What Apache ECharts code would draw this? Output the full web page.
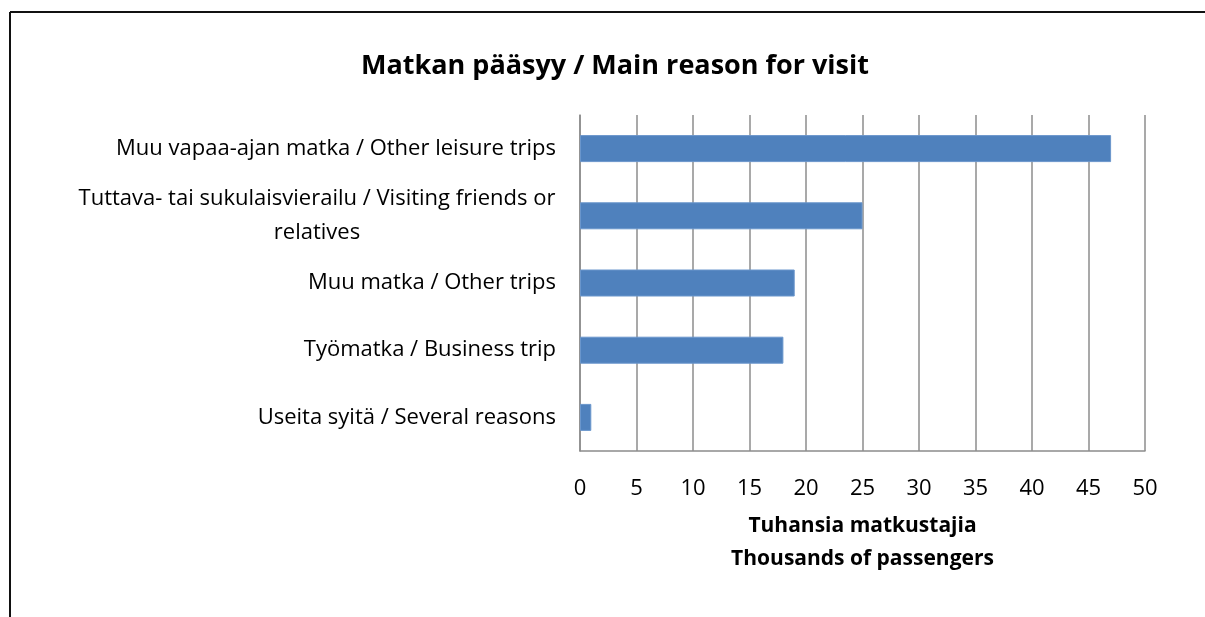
<!DOCTYPE html>
<html>
<head>
<meta charset="utf-8">
<style>
  html, body { margin: 0; padding: 0; background: #fff; }
  #chart { width: 1205px; height: 617px; }
</style>
<script src="https://cdn.jsdelivr.net/npm/echarts@6/dist/echarts.min.js"></script>
</head>
<body>
<div id="chart"></div>
<script>
// categories, top to bottom
var reasons = [
  'Muu vapaa-ajan matka / Other leisure trips',
  'Tuttava- tai sukulaisvierailu / Visiting friends or relatives',
  'Muu matka / Other trips',
  'Työmatka / Business trip',
  'Useita syitä / Several reasons'
];
// thousands of passengers
var passengers = [47, 25, 19, 18, 1];
var xTicks = [0, 5, 10, 15, 20, 25, 30, 35, 40, 45, 50];

var font = '"Open Sans", Lato, sans-serif';
var labelSize = 22;

// width of the longest wrapped line, so both lines can be centred on each other
var ctx = document.createElement('canvas').getContext('2d');
ctx.font = labelSize + 'px ' + font;
var wrapFirst = 'Tuttava- tai sukulaisvierailu / Visiting friends or';
var wrapWidth = Math.ceil(ctx.measureText(wrapFirst).width) + 1;

var myChart = echarts.init(document.getElementById('chart'));

var option = {
  backgroundColor: '#fff',
  animation: false,
  title: {
    text: 'Matkan pääsyy / Main reason for visit',
    left: 610,
    textAlign: 'center',
    top: 48,
    textStyle: { fontFamily: font, fontSize: 27, fontWeight: 'bold', color: '#000' }
  },
  graphic: [
    { type: 'line', shape: { x1: 10, y1: 12, x2: 1205, y2: 12 }, style: { stroke: '#111', lineWidth: 2 } },
    { type: 'line', shape: { x1: 10, y1: 12, x2: 10, y2: 617 }, style: { stroke: '#111', lineWidth: 2 } }
  ],
  grid: { left: 580, right: 60, top: 115, bottom: 166 },
  xAxis: {
    type: 'value',
    min: xTicks[0],
    max: xTicks[xTicks.length - 1],
    interval: 5,
    name: 'Tuhansia matkustajia\nThousands of passengers',
    nameLocation: 'middle',
    nameGap: 59,
    nameTextStyle: { fontFamily: font, fontSize: 21, fontWeight: 'bold', color: '#000', lineHeight: 33 },
    axisLine: { show: true, lineStyle: { color: '#8c8c8c', width: 1.5 } },
    axisTick: { show: false },
    axisLabel: { margin: 27, fontFamily: font, fontSize: labelSize, color: '#000' },
    splitLine: { show: true, lineStyle: { color: '#8c8c8c', width: 1.5 } }
  },
  yAxis: {
    type: 'category',
    inverse: true,
    data: reasons,
    axisLine: { show: true, lineStyle: { color: '#8c8c8c', width: 1.5 } },
    axisTick: { show: false },
    axisLabel: {
      margin: 24,
      fontFamily: font,
      fontSize: labelSize,
      color: '#000',
      formatter: function (v) {
        if (v.indexOf(wrapFirst) === 0) {
          return '{c|' + wrapFirst + '}\n{c|' + v.slice(wrapFirst.length + 1) + '}';
        }
        return v;
      },
      rich: {
        c: { width: wrapWidth, align: 'center', fontFamily: font, fontSize: labelSize, color: '#000', lineHeight: 34 }
      }
    }
  },
  series: [{
    type: 'bar',
    data: passengers,
    barWidth: 27,
    itemStyle: { color: '#4F81BD', borderColor: '#6a96cc', borderWidth: 1 }
  }]
};

myChart.setOption(option);
</script>
</body>
</html>
